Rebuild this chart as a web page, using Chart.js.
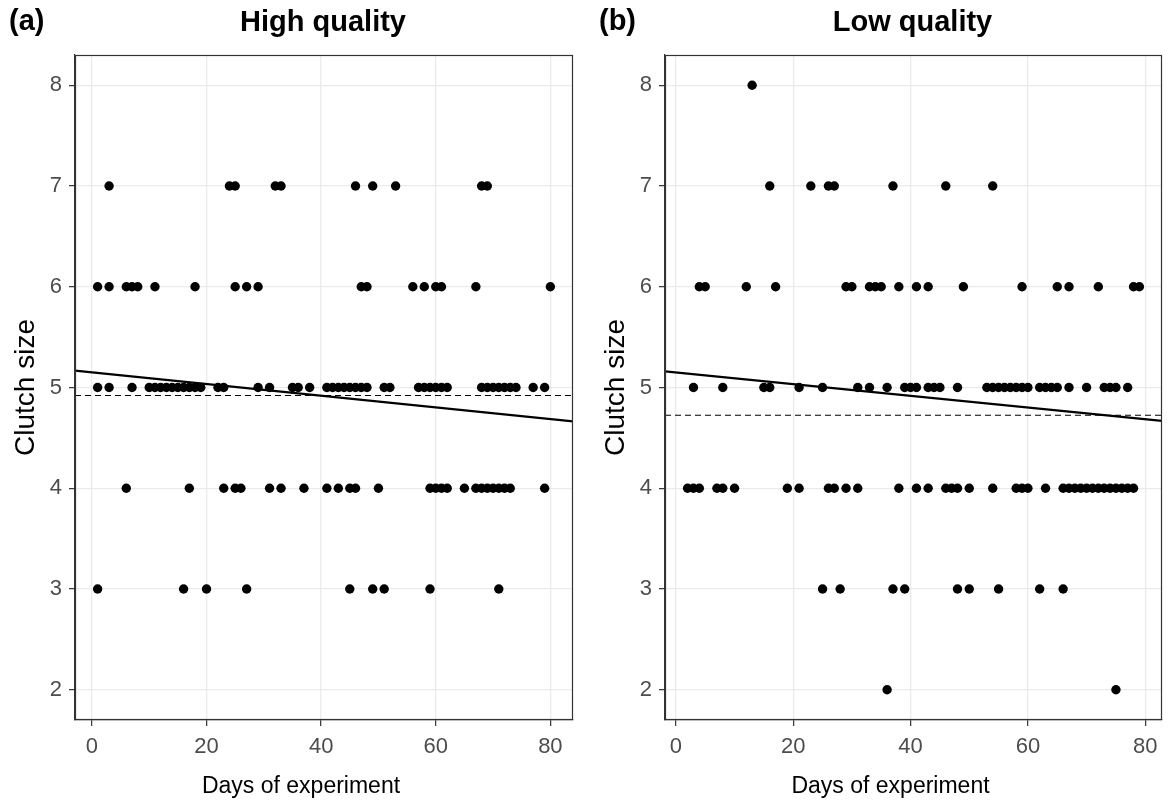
<!DOCTYPE html>
<html><head><meta charset="utf-8">
<script src="https://cdn.jsdelivr.net/npm/chart.js@4"></script>
<style>
html,body{margin:0;padding:0;background:#fff;}
body{width:1168px;height:802px;position:relative;overflow:hidden;}
.panel{position:absolute;top:0;height:802px;}
#pa{left:0;width:584px;}
#pb{left:590px;width:578px;}
</style></head><body>
<div class="panel" id="pa"><canvas id="ca" width="584" height="802"></canvas></div>
<div class="panel" id="pb"><canvas id="cb" width="578" height="802"></canvas></div>
<script>
// ---- tick labels ----
const xTicks = [0, 20, 40, 60, 80];
const yTicks = [2, 3, 4, 5, 6, 7, 8];
const yLimits = [2, 8];

// ---- (a) High quality: days of experiment for each clutch size ----
const hq_c3 = [1, 16, 20, 27, 45, 49, 51, 59, 71];
const hq_c4 = [6, 17, 23, 25, 26, 31, 33, 37, 41, 43, 45, 46, 50, 59, 60, 61, 62, 65, 67, 68, 69, 70, 71, 72, 73, 79];
const hq_c5 = [1, 3, 7, 10, 11, 12, 13, 14, 15, 16, 17, 18, 19, 22, 23, 29, 31, 35, 36, 38, 41, 42, 43, 44, 45, 46, 47, 48, 51, 52, 57, 58, 59, 60, 61, 62, 68, 69, 70, 71, 72, 73, 74, 77, 79];
const hq_c6 = [1, 3, 6, 7, 8, 11, 18, 25, 27, 29, 47, 48, 56, 58, 60, 61, 67, 80];
const hq_c7 = [3, 24, 25, 32, 33, 46, 49, 53, 68, 69];

// ---- (b) Low quality ----
const lq_c2 = [36, 75];
const lq_c3 = [25, 28, 37, 39, 48, 50, 55, 62, 66];
const lq_c4 = [2, 3, 4, 7, 8, 10, 19, 21, 26, 27, 29, 31, 38, 41, 43, 46, 47, 48, 50, 54, 58, 59, 60, 63, 66, 67, 68, 69, 70, 71, 72, 73, 74, 75, 76, 77, 78];
const lq_c5 = [3, 8, 15, 16, 21, 25, 31, 33, 36, 39, 40, 41, 43, 44, 45, 48, 53, 54, 55, 56, 57, 58, 59, 60, 62, 63, 64, 65, 67, 70, 73, 74, 75, 77];
const lq_c6 = [4, 5, 12, 17, 29, 30, 33, 34, 35, 38, 41, 43, 49, 59, 65, 67, 72, 78, 79];
const lq_c7 = [16, 23, 26, 27, 37, 46, 54];
const lq_c8 = [13];

// ---- fitted lines ----
const fitIntercept = 5.15;
const fitSlope = -0.0058;
const hqMean = 4.92;
const lqMean = 4.725;

const FONT = "'Liberation Sans', Arial, sans-serif";

function buildPoints(rows) {
  const pts = [];
  rows.forEach(([c, days]) => days.forEach(d => pts.push({x: d, y: c})));
  return pts;
}

const framePlugin = {
  id: 'frame',
  afterDraw(chart, args, opts) {
    const {ctx, chartArea: a} = chart;
    ctx.save();
    ctx.strokeStyle = '#333333';
    ctx.lineWidth = 1.2;
    ctx.strokeRect(a.left + 0.5, a.top + 0.5, a.right - a.left - 1, a.bottom - a.top - 1);
    ctx.fillStyle = '#000';
    ctx.font = "bold 29px " + FONT;
    ctx.textBaseline = 'middle';
    ctx.textAlign = 'left';
    ctx.fillText(opts.tag, 9, 22);
    ctx.textAlign = 'center';
    ctx.fillText(opts.title, (a.left + a.right) / 2 - 1, 23);
    ctx.font = "23px " + FONT;
    ctx.fillText(opts.xTitle, (a.left + a.right) / 2 - 23, 787);
    ctx.restore();
  }
};

function makeChart(id, tag, title, rows, mean, rightPad) {
  const pts = buildPoints(rows);
  const xs = pts.map(p => p.x);
  const lo = Math.min(...xs), hi = Math.max(...xs);
  const ex = (hi - lo) * 0.05;
  const xmin = lo - ex, xmax = hi + ex;
  const ey = (yLimits[1] - yLimits[0]) * 0.05;
  const ymin = yLimits[0] - ey, ymax = yLimits[1] + ey;
  const gridCommon = {color: '#ebebeb', lineWidth: 1.3, tickColor: '#333333', tickLength: 6, tickWidth: 1.2};
  new Chart(document.getElementById(id), {
    type: 'scatter',
    data: {datasets: [
      {type: 'line', data: [{x: xmin, y: fitIntercept + fitSlope * xmin}, {x: xmax, y: fitIntercept + fitSlope * xmax}],
       borderColor: '#000', borderWidth: 2.2, pointRadius: 0, fill: false},
      {type: 'line', data: [{x: xmin, y: mean}, {x: xmax, y: mean}],
       borderColor: '#000', borderWidth: 1.1, borderDash: [6, 4], pointRadius: 0, fill: false},
      {data: pts, backgroundColor: '#000', borderColor: '#000', borderWidth: 0, pointRadius: 4.7}
    ]},
    options: {
      responsive: false,
      animation: false,
      layout: {padding: {top: 55, right: rightPad, bottom: 0, left: 0}},
      plugins: {legend: {display: false}, tooltip: {enabled: false},
                frame: {tag: tag, title: title, xTitle: 'Days of experiment'}},
      scales: {
        x: {
          type: 'linear', min: xmin, max: xmax,
          afterBuildTicks: s => { s.ticks = xTicks.map(v => ({value: v})); },
          afterFit: s => { s.height = 82; },
          grid: gridCommon,
          border: {display: true, color: '#333333', width: 1.2},
          ticks: {font: {family: FONT, size: 22}, color: '#4d4d4d', padding: 8, maxRotation: 0, autoSkip: false},
          title: {display: false}
        },
        y: {
          type: 'linear', min: ymin, max: ymax,
          afterBuildTicks: s => { s.ticks = yTicks.map(v => ({value: v})); },
          afterFit: s => { s.width = 75; },
          grid: gridCommon,
          border: {display: true, color: '#333333', width: 1.2},
          ticks: {font: {family: FONT, size: 22}, color: '#4d4d4d', padding: 7, autoSkip: false},
          title: {display: true, text: 'Clutch size', font: {family: FONT, size: 28}, color: '#000', padding: {top: 9, bottom: 0}}
        }
      }
    },
    plugins: [framePlugin]
  });
}

makeChart('ca', '(a)', 'High quality',
  [[3, hq_c3], [4, hq_c4], [5, hq_c5], [6, hq_c6], [7, hq_c7]], hqMean, 11);
makeChart('cb', '(b)', 'Low quality',
  [[2, lq_c2], [3, lq_c3], [4, lq_c4], [5, lq_c5], [6, lq_c6], [7, lq_c7], [8, lq_c8]], lqMean, 6);
</script>
</body></html>
